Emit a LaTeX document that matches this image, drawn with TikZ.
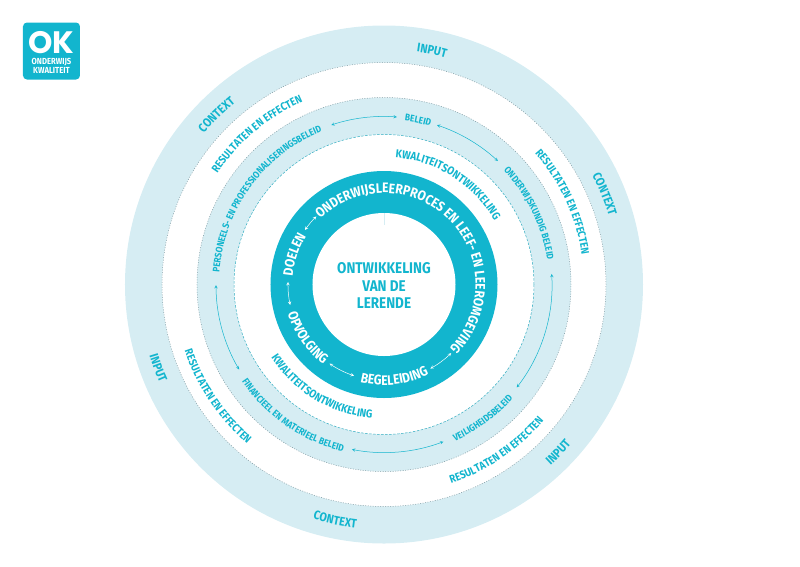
\documentclass[tikz,border=0pt]{standalone}
\usepackage{fontspec}
\setmainfont[FakeStretch=0.87]{Fira Sans}
\newfontfamily\logofont{Poppins}
\usetikzlibrary{arrows,decorations.text}
\definecolor{okteal}{HTML}{12B5CE}
\definecolor{oklight}{HTML}{D6EDF3}
\definecolor{okgrey}{HTML}{7F9BA3}
\tikzstyle{lightring} = [fill=oklight]
\tikzstyle{dotline} = [draw=okgrey, line width=0.5pt, dash pattern=on 1pt off 1.5pt]
\tikzstyle{dashline} = [draw=okteal!70!okgrey, line width=0.5pt, dash pattern=on 2.5pt off 1.5pt]
\tikzstyle{arrow} = [okteal,line width=0.5pt,<->,>=stealth]
\tikzstyle{whitearrow} = [white,line width=0.5pt,<->,>=stealth]
\newcommand{\contextfont}{\fontsize{12.4}{12.4}\selectfont\bfseries\color{okteal}}
\newcommand{\resultfont}{\fontsize{11.1}{11.1}\selectfont\bfseries\color{okteal}}
\newcommand{\policyfont}{\fontsize{9.6}{9.6}\selectfont\bfseries\color{okteal}}
\newcommand{\qualityfont}{\fontsize{11.4}{11.4}\selectfont\bfseries\color{okteal}}
\newcommand{\corefont}{\fontsize{13.8}{13.8}\selectfont\bfseries\color{white}}
% text on a circle: font, radius, middle angle, text
\newcommand{\cwtext}[4]{\path[decorate,decoration={text along path,text align=center,text={|#1|#4}}] ({#3+120}:#2) arc[start angle=#3+120,end angle=#3-120,radius=#2];}
\newcommand{\ccwtext}[4]{\path[decorate,decoration={text along path,text align=center,text={|#1|#4}}] ({#3-120}:#2) arc[start angle=#3-120,end angle=#3+120,radius=#2];}
\begin{document}
\begin{tikzpicture}[x=1pt,y=1pt]
\useasboundingbox (-384,-281.5) rectangle (416,284.5);

% rings
\fill[lightring] (0,0) circle[radius=259];
\path[fill=white,dotline] (0,0) circle[radius=222];
\path[lightring,dotline] (0,0) circle[radius=187];
\path[fill=white,dashline] (0,0) circle[radius=150];
\fill[okteal] (0,0) circle[radius=113.5];
\fill[white] (0,0) circle[radius=71.5];
\draw[oklight,line width=0.4pt] (0,71.5) -- (0,60);

\node (centre) [okteal,align=center,font=\fontsize{15.5}{17.5}\selectfont\bfseries] at (0,-1) {ONTWIKKELING\\VAN DE\\LERENDE};

% outer ring
\cwtext{\contextfont}{235}{78.4}{INPUT}
\cwtext{\contextfont}{235}{134.6}{CONTEXT}
\cwtext{\contextfont}{235}{22.3}{CONTEXT}
\ccwtext{\contextfont}{245}{258.3}{CONTEXT}
\ccwtext{\contextfont}{245}{200.3}{INPUT}
\ccwtext{\contextfont}{246}{-43.9}{INPUT}

% white ring
\cwtext{\resultfont}{200}{130.2}{RESULTATEN EN EFFECTEN}
\cwtext{\resultfont}{200}{24.8}{RESULTATEN EN EFFECTEN}
\ccwtext{\resultfont}{210}{213.9}{RESULTATEN EN EFFECTEN}
\ccwtext{\resultfont}{210}{-55.9}{RESULTATEN EN EFFECTEN}

% policy ring
\cwtext{\policyfont}{165}{78.3}{BELEID}
\cwtext{\policyfont}{165}{26.1}{ONDERWIJSKUNDIG BELEID}
\cwtext{\policyfont}{165}{144}{PERSONEELS- EN PROFESSIONALISERINGSBELEID}
\ccwtext{\policyfont}{172}{-53.5}{VEILIGHEIDSBELEID}
\ccwtext{\policyfont}{172}{235.2}{FINANCIEEL EN MATERIEEL BELEID}
\draw[arrow] (108.3:168) arc[start angle=108.3,end angle=85.6,radius=168];
\draw[arrow] (71.6:168) arc[start angle=71.6,end angle=47.3,radius=168];
\draw[arrow] (3.6:168) arc[start angle=3.6,end angle=-37.8,radius=168];
\draw[arrow] (-69.3:168) arc[start angle=-69.3,end angle=-101,radius=168];
\draw[arrow] (210.4:168) arc[start angle=210.4,end angle=180.2,radius=168];

\cwtext{\qualityfont}{127.5}{57.5}{KWALITEITSONTWIKKELING}
\ccwtext{\qualityfont}{134.5}{238.9}{KWALITEITSONTWIKKELING}

% teal ring
\cwtext{\corefont}{91.5}{44.75}{ONDERWIJSLEERPROCES EN LEEF- EN LEEROMGEVING}
\cwtext{\corefont}{91.5}{161.6}{DOELEN}
\ccwtext{\corefont}{100.5}{214.8}{OPVOLGING}
\ccwtext{\corefont}{100.5}{276.4}{BEGELEIDING}
\draw[whitearrow] (145.4:96) arc[start angle=145.4,end angle=134.8,radius=96];
\draw[whitearrow] (178.5:96) arc[start angle=178.5,end angle=192.3,radius=96];
\draw[whitearrow] (235.5:96) arc[start angle=235.5,end angle=251.8,radius=96];
\draw[whitearrow] (-61.1:96) arc[start angle=-61.1,end angle=-45.6,radius=96];

% logo
\node (logo) [fill=okteal,rounded corners=4pt,minimum width=57pt,minimum height=57pt,inner sep=0pt] at (-332.5,233.5) {};
\node (ok) [white,inner sep=0pt,font=\logofont\fontsize{31}{31}\selectfont\bfseries] at (-333,241.5) {OK};
\node (logotext) [white,inner sep=0pt,align=center,font=\fontsize{8.8}{7.2}\selectfont\bfseries] at (-332.5,218.5) {ONDERWIJS\\KWALITEIT};
\end{tikzpicture}
\end{document}
